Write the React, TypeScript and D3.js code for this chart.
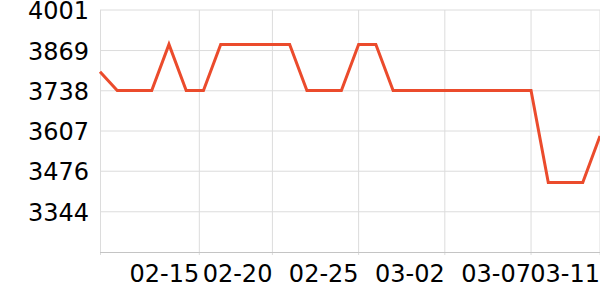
import React from "react";
import * as d3 from "d3";

const dates: string[] = [
  "2023-02-10", "2023-02-11", "2023-02-12", "2023-02-13", "2023-02-14",
  "2023-02-15", "2023-02-16", "2023-02-17", "2023-02-18", "2023-02-19",
  "2023-02-20", "2023-02-21", "2023-02-22", "2023-02-23", "2023-02-24",
  "2023-02-25", "2023-02-26", "2023-02-27", "2023-02-28", "2023-03-01",
  "2023-03-02", "2023-03-03", "2023-03-04", "2023-03-05", "2023-03-06",
  "2023-03-07", "2023-03-08", "2023-03-09", "2023-03-10", "2023-03-11",
];

const values: number[] = [
  3800, 3739, 3739, 3739, 3889, 3739, 3739, 3889, 3889, 3889,
  3889, 3889, 3739, 3739, 3739, 3889, 3889, 3739, 3739, 3739,
  3739, 3739, 3739, 3739, 3739, 3739, 3439, 3439, 3439, 3591,
];

const yTicks: number[] = [3344, 3476, 3607, 3738, 3869, 4001];
const yMin = 3213;
const yMax = 4001;

const xTickDates: string[] = [
  "2023-02-15T18:15", "2023-02-20", "2023-02-25", "2023-03-02", "2023-03-07", "2023-03-11",
];
const xTickLabels: string[] = ["02-15", "02-20", "02-25", "03-02", "03-07", "03-11"];

const W = 600;
const H = 300;
const left = 100;
const right = 600;
const top = 10;
const bottom = 252;
const FONT = "DejaVu Sans";

export default function App() {
  const parse = (s: string) => new Date(s + (s.length === 10 ? "T00:00" : ""));
  const data = dates.map((d, i) => ({ date: parse(d), value: values[i] }));
  const x = d3
    .scaleTime()
    .domain([data[0].date, data[data.length - 1].date])
    .range([left, right]);
  const y = d3.scaleLinear().domain([yMin, yMax]).range([bottom, top]);
  const line = d3
    .line<{ date: Date; value: number }>()
    .x((d) => x(d.date))
    .y((d) => y(d.value));
  const xTicks = xTickDates.map(parse);

  return (
    <svg
      width={W}
      height={H}
      style={{ position: "absolute", left: 0, top: 0, background: "#fff" }}
      fontFamily={FONT}
    >
      {yTicks.map((t) => (
        <line key={"hy" + t} x1={left} x2={right} y1={y(t)} y2={y(t)} stroke="#dcdcdc" strokeWidth={1} />
      ))}
      <line x1={left + 0.5} x2={left + 0.5} y1={top} y2={bottom + 3} stroke="#dcdcdc" strokeWidth={1} />
      {xTicks.map((t, i) => (
        <line key={"vx" + i} x1={x(t)} x2={x(t)} y1={top} y2={bottom + 3} stroke="#dcdcdc" strokeWidth={1} />
      ))}
      <line x1={left} x2={right} y1={bottom + 0.5} y2={bottom + 0.5} stroke="#c4c4c4" strokeWidth={1.2} />
      <path d={line(data) || ""} fill="none" stroke="#eb4b2c" strokeWidth={3} strokeLinejoin="miter" />
      {yTicks.map((t) => (
        <text key={"ty" + t} x={89} y={y(t) + 9} textAnchor="end" fontSize={24} fill="#000">
          {t}
        </text>
      ))}
      {xTicks.map((t, i) => (
        <text key={"tx" + i} x={x(t)} y={282} textAnchor="end" fontSize={24} fill="#000">
          {xTickLabels[i]}
        </text>
      ))}
    </svg>
  );
}
